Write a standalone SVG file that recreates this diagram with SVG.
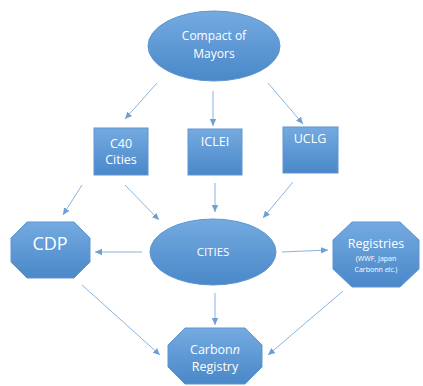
<svg xmlns="http://www.w3.org/2000/svg" width="423" height="386" viewBox="0 0 423 386">
<defs>
<linearGradient id="g" x1="0" y1="0" x2="0" y2="1">
<stop offset="0" stop-color="#74aae0"/>
<stop offset="1" stop-color="#4a88c9"/>
</linearGradient>
<marker id="a" markerWidth="8" markerHeight="8" refX="7" refY="4" orient="auto" markerUnits="userSpaceOnUse">
<path d="M0,0.8 L7,4 L0,7.2 Z" fill="#6d9fd6"/>
</marker>
</defs>
<style>
.n{fill:url(#g);stroke:#5e95d0;stroke-width:1}
.t{fill:#fff;font-family:"Open Sans","Liberation Sans",sans-serif;text-anchor:middle}
.c line{stroke:#8ab3e0;stroke-width:1;marker-end:url(#a)}
</style>
<rect width="423" height="386" fill="#fff"/>
<g class="c" id="connectors">
<line x1="157" y1="83" x2="125" y2="119"/>
<line x1="213" y1="91" x2="213" y2="126"/>
<line x1="268" y1="83" x2="303" y2="124"/>
<line x1="82" y1="185" x2="63" y2="215"/>
<line x1="125" y1="185" x2="159" y2="220"/>
<line x1="215" y1="183" x2="215" y2="212"/>
<line x1="293" y1="182" x2="263" y2="218"/>
<line x1="142" y1="252" x2="95" y2="252"/>
<line x1="282" y1="252" x2="328" y2="250"/>
<line x1="82" y1="285" x2="160" y2="355"/>
<line x1="215" y1="293" x2="215" y2="325"/>
<line x1="343" y1="291" x2="268" y2="355"/>
</g>
<g id="compact">
<ellipse class="n" cx="214" cy="46" rx="66" ry="35"/>
<text class="t" x="214" y="40" font-size="12">Compact of</text>
<text class="t" x="214" y="58" font-size="12">Mayors</text>
</g>
<g id="c40">
<rect class="n" x="94" y="128" width="54" height="47"/>
<text class="t" x="121" y="148" font-size="12.5">C40</text>
<text class="t" x="121" y="164" font-size="12.5">Cities</text>
</g>
<g id="iclei">
<rect class="n" x="188" y="129" width="54" height="46"/>
<text class="t" x="215" y="146" font-size="12.5">ICLEI</text>
</g>
<g id="uclg">
<rect class="n" x="283" y="127" width="55" height="46"/>
<text class="t" x="310" y="143" font-size="12.5">UCLG</text>
</g>
<g id="cdp">
<polygon class="n" points="27,222 74,222 90,238 90,262 74,278 27,278 11,262 11,238"/>
<text class="t" x="50" y="250" font-size="18">CDP</text>
</g>
<g id="cities">
<ellipse class="n" cx="213" cy="252" rx="63" ry="33"/>
<text class="t" x="213" y="256" font-size="11.5">CITIES</text>
</g>
<g id="registries">
<polygon class="n" points="352,222 400,222 419,240 419,269 400,287 352,287 333,269 333,240"/>
<text class="t" x="376" y="248" font-size="12.5">Registries</text>
<text class="t" x="376" y="261" font-size="7">(WWF, Japan</text>
<text class="t" x="376" y="272" font-size="7">Carbonn <tspan font-style="italic">etc.</tspan>)</text>
</g>
<g id="carbonn">
<polygon class="n" points="185,328 245,328 262,345 262,367 245,384 185,384 168,367 168,345"/>
<text class="t" x="215" y="354" font-size="12.5">Carbon<tspan font-style="italic">n</tspan></text>
<text class="t" x="215" y="371" font-size="12.5">Registry</text>
</g>
</svg>
